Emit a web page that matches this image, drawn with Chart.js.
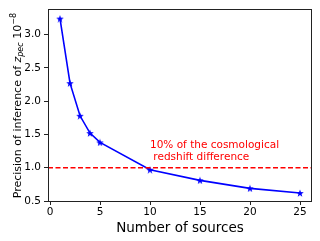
<!DOCTYPE html>
<html>
<head>
<meta charset="utf-8">
<script src="https://cdn.jsdelivr.net/npm/chart.js@4/dist/chart.umd.min.js"></script>
<style>
  html, body { margin: 0; padding: 0; background: #fff; }
  #wrap { width: 320px; height: 241px; }
</style>
</head>
<body>
<div id="wrap"><canvas id="chart" width="320" height="241"></canvas></div>
<script>
// data
var sources = [1, 2, 3, 4, 5, 10, 15, 20, 25];
var precision = [3.24, 2.27, 1.78, 1.52, 1.38, 0.97, 0.81, 0.69, 0.62];
var thresholdX = [-0.2, 26.2];
var thresholdY = [1.0, 1.0];
var xTicks = [0, 5, 10, 15, 20, 25];
var yTicks = [0.5, 1.0, 1.5, 2.0, 2.5, 3.0];
var noteLines = ["10% of the cosmological", " redshift difference"];

var font = "DejaVu Sans";

// filled star marker like matplotlib '*'
function makeStar(size, color) {
	var c = document.createElement('canvas');
	c.width = size; c.height = size;
	var g = c.getContext('2d');
	var cx = size / 2, cy = size / 2, R = size / 2, r = R * 0.4;
	g.beginPath();
	for (var i = 0; i < 10; i++) {
		var a = -Math.PI / 2 + i * Math.PI / 5;
		var rr = i % 2 == 0 ? R : r;
		g.lineTo(cx + rr * Math.cos(a), cy + rr * Math.sin(a) + 0.4);
	}
	g.closePath();
	g.fillStyle = color;
	g.fill();
	return c;
}
var star = makeStar(8, '#0000ff');

var extras = {
	id: 'extras',
	afterDraw: function(chart) {
		var ctx = chart.ctx;
		var a = chart.chartArea;
		var xs = chart.scales.x, ys = chart.scales.y;
		ctx.save();
		// frame
		ctx.strokeStyle = '#222';
		ctx.lineWidth = 1;
		ctx.strokeRect(Math.round(a.left) + 0.5, Math.round(a.top) + 0.5,
			Math.round(a.right - a.left) - 1, Math.round(a.bottom - a.top));

		// red note
		ctx.fillStyle = '#ff0000';
		ctx.font = '10.5px "' + font + '"';
		ctx.textBaseline = 'alphabetic';
		ctx.textAlign = 'left';
		var nx = xs.getPixelForValue(10);
		ctx.fillText(noteLines[0], nx, 148);
		ctx.fillText(noteLines[1], nx, 160);

		// x title
		ctx.fillStyle = '#000';
		ctx.font = '13.5px "' + font + '"';
		ctx.textAlign = 'center';
		ctx.fillText('Number of sources', (a.left + a.right) / 2, 232);

		// y title with italic z and sub/superscripts
		var parts = [
			{t: 'Precision of inference of ', f: '11px "' + font + '"', dy: 0},
			{t: 'z', f: 'italic 11px "' + font + '"', dy: 0},
			{t: 'pec', f: 'italic 8px "' + font + '"', dy: 2.5},
			{t: ' 10', f: '11px "' + font + '"', dy: 0},
			{t: '\u22128', f: '8px "' + font + '"', dy: -5}
		];
		var total = 0;
		parts.forEach(function(p) { ctx.font = p.f; p.w = ctx.measureText(p.t).width; total += p.w; });
		ctx.translate(20.5, (a.top + a.bottom) / 2 + 0.5);
		ctx.rotate(-Math.PI / 2);
		ctx.textAlign = 'left';
		var px = -total / 2;
		parts.forEach(function(p) {
			ctx.font = p.f;
			ctx.fillText(p.t, px, p.dy);
			px += p.w;
		});
		ctx.restore();
	}
};

new Chart(document.getElementById('chart').getContext('2d'), {
	type: 'scatter',
	data: {
		datasets: [
			{
				data: thresholdX.map(function(x, i) { return {x: x, y: thresholdY[i]}; }),
				showLine: true,
				borderColor: '#ff0000',
				borderWidth: 1.5,
				borderDash: [5, 2.5],
				pointRadius: 0
			},
			{
				data: sources.map(function(x, i) { return {x: x, y: precision[i]}; }),
				showLine: true,
				borderColor: '#0000ff',
				borderWidth: 1.6,
				pointStyle: star,
				pointRadius: 4
			}
		]
	},
	options: {
		responsive: false,
		animation: false,
		layout: { padding: { left: 0, right: 8, top: 8, bottom: 0 } },
		plugins: { legend: { display: false }, tooltip: { enabled: false } },
		scales: {
			x: {
				type: 'linear',
				min: -0.2, max: 26.2,
				afterBuildTicks: function(s) { s.ticks = xTicks.map(function(v) { return {value: v}; }); },
				afterFit: function(s) { s.height = 40; },
				grid: { drawOnChartArea: false, drawTicks: true, tickLength: 4, color: '#222' },
				border: { display: false },
				ticks: { color: '#000', font: { family: font, size: 10.5 }, padding: 1, maxRotation: 0 }
			},
			y: {
				min: 0.5, max: 3.38,
				afterBuildTicks: function(s) { s.ticks = yTicks.map(function(v) { return {value: v}; }); },
				afterFit: function(s) { s.width = 48; },
				grid: { drawOnChartArea: false, drawTicks: true, tickLength: 4, color: '#222' },
				border: { display: false },
				ticks: { color: '#000', font: { family: font, size: 10.5 }, padding: 3,
					callback: function(v) { return v.toFixed(1); } }
			}
		}
	},
	plugins: [extras]
});
</script>
</body>
</html>
